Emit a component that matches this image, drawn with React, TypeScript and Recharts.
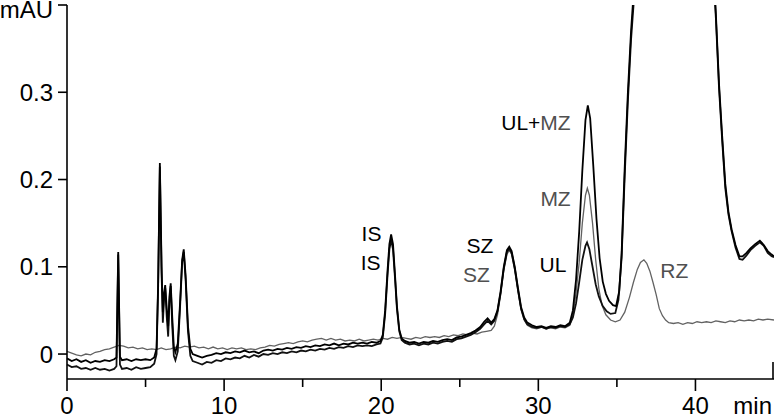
import { Line, LineChart, ReferenceDot, XAxis, YAxis } from 'recharts'

// retention time (min), absorbance (mAU)
const upperBlack: [number, number][] = [
  [0, -0.005], [0.3, -0.008], [0.6, -0.006], [0.9, -0.009], [1.2, -0.007], [1.5, -0.01], [1.8, -0.008], [2.1, -0.009],
  [2.4, -0.007], [2.7, -0.008], [3.0, -0.006], [3.15, -0.004], [3.26, 0.117], [3.37, -0.003], [3.5, -0.007], [3.8, -0.006],
  [4.1, -0.008], [4.4, -0.006], [4.7, -0.007], [5.0, -0.006], [5.3, -0.007], [5.55, -0.004], [5.7, 0.006], [5.8, 0.08],
  [5.91, 0.219], [6.02, 0.1], [6.1, 0.048], [6.18, 0.07], [6.25, 0.079], [6.35, 0.052], [6.44, 0.032], [6.52, 0.066],
  [6.6, 0.081], [6.7, 0.042], [6.8, 0.008], [6.9, 0.002], [7.05, 0.012], [7.2, 0.06], [7.33, 0.108], [7.43, 0.12],
  [7.55, 0.09], [7.7, 0.032], [7.85, 0.006], [8.0, 0.0], [8.3, -0.002], [8.6, -0.004], [8.9, -0.002], [9.2, -0.001],
  [9.5, 0.001], [9.8, 0.0], [10.1, 0.002], [10.4, 0.001], [10.7, 0.003], [11.0, 0.002], [11.3, 0.004], [11.6, 0.002],
  [11.9, 0.003], [12.2, 0.001], [12.5, 0.004], [12.8, 0.005], [13.1, 0.004], [13.4, 0.006], [13.7, 0.005], [14.0, 0.007],
  [14.3, 0.006], [14.6, 0.008], [14.9, 0.007], [15.2, 0.009], [15.5, 0.008], [15.8, 0.01], [16.1, 0.009], [16.4, 0.011],
  [16.7, 0.01], [17.0, 0.012], [17.3, 0.01], [17.6, 0.012], [17.9, 0.011], [18.2, 0.013], [18.5, 0.012], [18.8, 0.013],
  [19.1, 0.012], [19.4, 0.014], [19.7, 0.013], [19.95, 0.015], [20.1, 0.022], [20.25, 0.05], [20.4, 0.095], [20.52, 0.126],
  [20.63, 0.137], [20.75, 0.126], [20.88, 0.09], [21.0, 0.055], [21.15, 0.028], [21.3, 0.018], [21.5, 0.015], [21.8, 0.013],
  [22.1, 0.014], [22.4, 0.012], [22.7, 0.014], [23.0, 0.013], [23.3, 0.015], [23.6, 0.014], [23.9, 0.016], [24.2, 0.017],
  [24.5, 0.016], [24.8, 0.019], [25.1, 0.02], [25.4, 0.022], [25.7, 0.024], [26.0, 0.027], [26.3, 0.031], [26.55, 0.037],
  [26.77, 0.041], [27.0, 0.036], [27.2, 0.04], [27.4, 0.05], [27.6, 0.072], [27.8, 0.1], [28.0, 0.119], [28.15, 0.123],
  [28.3, 0.118], [28.5, 0.1], [28.7, 0.076], [28.9, 0.054], [29.1, 0.042], [29.3, 0.036], [29.6, 0.033], [29.9, 0.031],
  [30.2, 0.032], [30.5, 0.03], [30.8, 0.032], [31.1, 0.031], [31.4, 0.033], [31.7, 0.032], [32.0, 0.036], [32.2, 0.05],
  [32.4, 0.085], [32.6, 0.14], [32.8, 0.21], [33.0, 0.268], [33.15, 0.285], [33.3, 0.27], [33.5, 0.215], [33.7, 0.155],
  [33.9, 0.11], [34.1, 0.083], [34.3, 0.069], [34.5, 0.061], [34.75, 0.056], [34.95, 0.055], [35.15, 0.072], [35.3, 0.115],
  [35.5, 0.215], [35.7, 0.3], [35.9, 0.37], [36.05, 0.41], [36.5, 0.62], [37.0, 0.82], [38.0, 1.0], [39.0, 1.0],
  [40.0, 0.85], [40.7, 0.6], [41.1, 0.46], [41.3, 0.39], [41.5, 0.31], [41.7, 0.25], [41.9, 0.195], [42.1, 0.163],
  [42.3, 0.143], [42.55, 0.125], [42.8, 0.112], [43.0, 0.112], [43.25, 0.116], [43.5, 0.121], [43.8, 0.126], [44.1, 0.13],
  [44.35, 0.125], [44.6, 0.118], [44.85, 0.114], [45, 0.112],
]

const lowerBlack: [number, number][] = [
  [0, -0.012], [0.3, -0.015], [0.6, -0.014], [0.9, -0.017], [1.2, -0.016], [1.5, -0.018], [1.8, -0.016], [2.1, -0.018],
  [2.4, -0.017], [2.7, -0.019], [3.0, -0.017], [3.15, -0.014], [3.26, 0.114], [3.37, -0.012], [3.5, -0.017], [3.8, -0.016],
  [4.1, -0.018], [4.4, -0.015], [4.7, -0.017], [5.0, -0.016], [5.3, -0.015], [5.55, -0.011], [5.7, 0.0], [5.8, 0.075],
  [5.91, 0.215], [6.02, 0.092], [6.1, 0.036], [6.18, 0.064], [6.25, 0.076], [6.35, 0.042], [6.44, 0.02], [6.52, 0.06],
  [6.6, 0.078], [6.7, 0.032], [6.8, -0.002], [6.9, -0.007], [7.05, 0.003], [7.2, 0.055], [7.33, 0.105], [7.43, 0.117],
  [7.55, 0.085], [7.7, 0.026], [7.85, -0.002], [8.0, -0.008], [8.3, -0.01], [8.6, -0.012], [8.9, -0.009], [9.2, -0.01],
  [9.5, -0.007], [9.8, -0.008], [10.1, -0.005], [10.4, -0.006], [10.7, -0.004], [11.0, -0.005], [11.3, -0.002], [11.6, -0.004],
  [11.9, -0.001], [12.2, -0.003], [12.5, 0.0], [12.8, -0.001], [13.1, 0.001], [13.4, 0.0], [13.7, 0.002], [14.0, 0.001],
  [14.3, 0.003], [14.6, 0.002], [14.9, 0.004], [15.2, 0.003], [15.5, 0.005], [15.8, 0.004], [16.1, 0.006], [16.4, 0.005],
  [16.7, 0.007], [17.0, 0.006], [17.3, 0.008], [17.6, 0.007], [17.9, 0.009], [18.2, 0.008], [18.5, 0.01], [18.8, 0.009],
  [19.1, 0.01], [19.4, 0.009], [19.7, 0.011], [19.95, 0.012], [20.1, 0.019], [20.25, 0.046], [20.4, 0.09], [20.52, 0.12],
  [20.63, 0.131], [20.75, 0.12], [20.88, 0.086], [21.0, 0.052], [21.15, 0.026], [21.3, 0.016], [21.5, 0.013], [21.8, 0.011],
  [22.1, 0.012], [22.4, 0.01], [22.7, 0.012], [23.0, 0.011], [23.3, 0.013], [23.6, 0.012], [23.9, 0.014], [24.2, 0.015],
  [24.5, 0.014], [24.8, 0.017], [25.1, 0.018], [25.4, 0.02], [25.7, 0.022], [26.0, 0.025], [26.3, 0.029], [26.55, 0.034],
  [26.77, 0.038], [27.0, 0.034], [27.2, 0.038], [27.4, 0.049], [27.6, 0.07], [27.8, 0.098], [28.0, 0.117], [28.15, 0.121],
  [28.3, 0.116], [28.5, 0.098], [28.7, 0.074], [28.9, 0.052], [29.1, 0.04], [29.3, 0.034], [29.6, 0.031], [29.9, 0.03],
  [30.2, 0.031], [30.5, 0.029], [30.8, 0.031], [31.1, 0.03], [31.4, 0.032], [31.7, 0.031], [32.0, 0.034], [32.2, 0.042],
  [32.4, 0.058], [32.6, 0.082], [32.8, 0.108], [33.0, 0.124], [33.1, 0.128], [33.25, 0.12], [33.45, 0.1], [33.65, 0.08],
  [33.85, 0.066], [34.1, 0.055], [34.35, 0.049], [34.6, 0.046], [34.9, 0.047], [35.1, 0.062], [35.3, 0.11], [35.5, 0.205],
  [35.7, 0.29], [35.9, 0.36], [36.1, 0.41], [36.5, 0.6], [37.0, 0.8], [38.0, 0.98], [39.0, 0.98], [40.0, 0.83],
  [40.7, 0.58], [41.1, 0.45], [41.3, 0.385], [41.5, 0.305], [41.7, 0.245], [41.9, 0.19], [42.1, 0.16], [42.3, 0.141],
  [42.55, 0.122], [42.8, 0.109], [43.0, 0.108], [43.25, 0.113], [43.5, 0.119], [43.8, 0.124], [44.1, 0.128], [44.35, 0.124],
  [44.6, 0.116], [44.85, 0.112], [45, 0.111],
]

const grayTrace: [number, number][] = [
  [0, 0.003], [0.3, 0.001], [0.6, -0.001], [0.9, -0.002], [1.2, 0.0], [1.5, -0.001], [1.8, 0.002], [2.1, 0.003],
  [2.4, 0.005], [2.7, 0.006], [3.0, 0.008], [3.3, 0.01], [3.6, 0.009], [3.9, 0.007], [4.2, 0.008], [4.5, 0.006],
  [4.8, 0.007], [5.1, 0.005], [5.4, 0.006], [5.7, 0.005], [6.0, 0.007], [6.3, 0.005], [6.6, 0.006], [6.9, 0.008],
  [7.2, 0.007], [7.5, 0.009], [7.8, 0.008], [8.1, 0.009], [8.4, 0.007], [8.7, 0.008], [9.0, 0.006], [9.3, 0.008],
  [9.6, 0.006], [9.9, 0.007], [10.2, 0.005], [10.5, 0.007], [10.8, 0.006], [11.1, 0.007], [11.4, 0.005], [11.7, 0.006],
  [12.0, 0.005], [12.3, 0.007], [12.6, 0.008], [12.9, 0.01], [13.2, 0.009], [13.5, 0.011], [13.8, 0.012], [14.1, 0.013],
  [14.4, 0.012], [14.7, 0.014], [15.0, 0.015], [15.3, 0.014], [15.6, 0.016], [15.9, 0.017], [16.2, 0.018], [16.5, 0.016],
  [16.8, 0.018], [17.1, 0.016], [17.4, 0.017], [17.7, 0.015], [18.0, 0.016], [18.3, 0.015], [18.6, 0.017], [18.9, 0.015],
  [19.2, 0.016], [19.5, 0.017], [19.8, 0.016], [20.1, 0.018], [20.4, 0.017], [20.7, 0.019], [21.0, 0.018], [21.3, 0.019],
  [21.6, 0.018], [21.9, 0.017], [22.2, 0.019], [22.5, 0.018], [22.8, 0.02], [23.1, 0.019], [23.4, 0.02], [23.7, 0.019],
  [24.0, 0.021], [24.3, 0.02], [24.6, 0.022], [24.9, 0.021], [25.2, 0.023], [25.5, 0.022], [25.8, 0.024], [26.1, 0.023],
  [26.4, 0.025], [26.7, 0.026], [27.0, 0.027], [27.2, 0.032], [27.4, 0.045], [27.6, 0.068], [27.8, 0.096], [28.0, 0.114],
  [28.15, 0.119], [28.3, 0.114], [28.5, 0.096], [28.7, 0.072], [28.9, 0.051], [29.1, 0.039], [29.3, 0.033], [29.6, 0.03],
  [29.9, 0.029], [30.2, 0.031], [30.5, 0.029], [30.8, 0.03], [31.1, 0.029], [31.4, 0.031], [31.7, 0.03], [32.0, 0.033],
  [32.2, 0.045], [32.4, 0.07], [32.6, 0.105], [32.8, 0.15], [33.0, 0.182], [33.12, 0.19], [33.25, 0.182], [33.45, 0.15],
  [33.65, 0.108], [33.85, 0.075], [34.05, 0.056], [34.3, 0.045], [34.6, 0.039], [34.9, 0.037], [35.2, 0.039], [35.5, 0.048],
  [35.8, 0.065], [36.05, 0.082], [36.3, 0.097], [36.5, 0.105], [36.72, 0.108], [36.9, 0.104], [37.1, 0.095], [37.3, 0.082],
  [37.5, 0.068], [37.7, 0.052], [37.9, 0.044], [38.1, 0.039], [38.3, 0.036], [38.6, 0.035], [38.9, 0.036], [39.2, 0.034],
  [39.5, 0.036], [39.8, 0.035], [40.1, 0.037], [40.4, 0.036], [40.7, 0.037], [41.0, 0.036], [41.3, 0.038], [41.6, 0.037],
  [41.9, 0.036], [42.2, 0.038], [42.5, 0.037], [42.8, 0.039], [43.1, 0.038], [43.4, 0.039], [43.7, 0.038], [44.0, 0.04],
  [44.3, 0.039], [44.6, 0.04], [45, 0.039],
]

const timeTicks = [0, 5, 10, 15, 20, 25, 30, 35, 40, 45]
const absTicks = [0, 0.1, 0.2, 0.3, 0.4]

// peak labels: text parts, time at left edge of the text, level at its baseline
const peakLabels: { parts: { text: string; gray: boolean }[]; t: number; v: number }[] = [
  { parts: [{ text: 'IS', gray: false }], t: 18.75, v: 0.13 },
  { parts: [{ text: 'IS', gray: false }], t: 18.69, v: 0.0965 },
  { parts: [{ text: 'SZ', gray: false }], t: 25.42, v: 0.1162 },
  { parts: [{ text: 'SZ', gray: true }], t: 25.2, v: 0.0831 },
  { parts: [{ text: 'UL', gray: false }], t: 30.08, v: 0.0945 },
  { parts: [{ text: 'UL+', gray: false }, { text: 'MZ', gray: true }], t: 27.64, v: 0.2566 },
  { parts: [{ text: 'MZ', gray: true }], t: 30.13, v: 0.1697 },
  { parts: [{ text: 'RZ', gray: true }], t: 37.76, v: 0.087 },
]

const FONT = '"Liberation Sans", Arial, Helvetica, sans-serif'
const GRAY_LINE = '#626262'
const GRAY_TEXT = '#505050'

const toRows = (pts: [number, number][]) => pts.map(([t, v]) => ({ t, v }))

function TimeTick(props: any) {
  const { x, y, payload } = props
  const v = payload.value
  if (v === 45) {
    return (
      <g>
        <line x1={x - 1} x2={x - 1} y1={y} y2={y - 17} stroke="#000" strokeWidth={1.6} />
        <text x={x - 2} y={y + 35} textAnchor="end" fontSize={24} fontFamily={FONT} fill="#000">
          min
        </text>
      </g>
    )
  }
  const major = v % 10 === 0
  return (
    <g>
      <line x1={x} x2={x} y1={y} y2={y + (major ? 12 : 8)} stroke="#000" strokeWidth={1.6} />
      {major && (
        <text x={x} y={y + 35} textAnchor="middle" fontSize={24} fontFamily={FONT} fill="#000">
          {v}
        </text>
      )}
    </g>
  )
}

function PeakLabel({ viewBox, parts }: any) {
  if (!viewBox) return null
  return (
    <text x={viewBox.x} y={viewBox.y} fontSize={21} fontFamily={FONT}>
      {parts.map((p: any, i: number) => (
        <tspan key={i} fill={p.gray ? GRAY_TEXT : '#000'}>
          {p.text}
        </tspan>
      ))}
    </text>
  )
}

export default function App() {
  return (
    <div style={{ position: 'absolute', left: 0, top: 0, width: 774, height: 418, background: '#fff' }}>
      <LineChart width={774} height={418} margin={{ top: 5, right: 0, bottom: 0, left: 0 }}>
        <XAxis
          dataKey="t"
          type="number"
          domain={[0, 45]}
          ticks={timeTicks}
          interval={0}
          height={39}
          tickSize={0}
          tickMargin={0}
          tickLine={false}
          tick={<TimeTick />}
          axisLine={{ stroke: '#000', strokeWidth: 1.6 }}
        />
        <XAxis
          xAxisId="top"
          orientation="top"
          dataKey="t"
          type="number"
          domain={[0, 45]}
          height={0}
          tick={false}
          tickLine={false}
          axisLine={{ stroke: '#000', strokeWidth: 1.6 }}
        />
        <YAxis
          type="number"
          domain={[-0.0286, 0.4]}
          allowDataOverflow
          ticks={absTicks}
          interval={0}
          width={67}
          tickSize={9}
          tickMargin={5}
          tickLine={{ stroke: '#000', strokeWidth: 1.6 }}
          axisLine={{ stroke: '#000', strokeWidth: 1.6 }}
          tick={{ fontSize: 24, fontFamily: FONT, fill: '#000' }}
          tickFormatter={(v) => (v === 0 ? '0' : v >= 0.4 ? '' : String(v))}
          label={{
            content: ({ viewBox }: any) => (
              <text x={viewBox.x + viewBox.width - 14} y={viewBox.y + 13} textAnchor="end" fontSize={24} fontFamily={FONT} fill="#000">
                mAU
              </text>
            ),
          }}
        />
        <Line data={toRows(grayTrace)} dataKey="v" type="linear" stroke={GRAY_LINE} strokeWidth={1.3} dot={false} isAnimationActive={false} />
        <Line data={toRows(lowerBlack)} dataKey="v" type="linear" stroke="#111" strokeWidth={1.8} dot={false} isAnimationActive={false} />
        <Line data={toRows(upperBlack)} dataKey="v" type="linear" stroke="#000" strokeWidth={1.8} dot={false} isAnimationActive={false} />
        {peakLabels.map((l, i) => (
          <ReferenceDot
            key={i}
            x={l.t}
            y={l.v}
            r={0}
            fill="none"
            stroke="none"
            label={{ content: (p: any) => <PeakLabel viewBox={p.viewBox} parts={l.parts} /> }}
          />
        ))}
      </LineChart>
    </div>
  )
}
